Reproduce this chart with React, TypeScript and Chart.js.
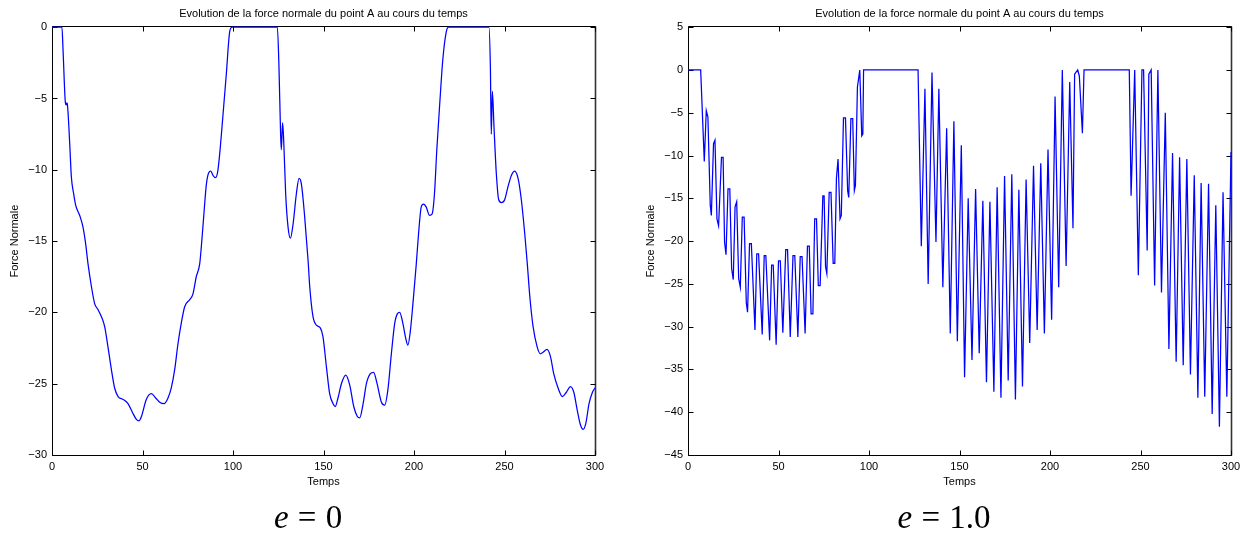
import React, { useEffect, useRef } from 'react';
import { Chart, registerables } from 'chart.js';

Chart.register(...registerables);

const TITLE = 'Evolution de la force normale du point A au cours du temps';
const X_LABEL = 'Temps';
const Y_LABEL = 'Force Normale';

const xTicks = [0, 50, 100, 150, 200, 250, 300];
const leftYTicks = [-30, -25, -20, -15, -10, -5, 0];
const rightYTicks = [-45, -40, -35, -30, -25, -20, -15, -10, -5, 0, 5];

// e = 0 (smooth curve)
const leftTime = [
  0, 5.5, 6.1, 7.4, 7.8, 8.2, 8.5, 9.8, 10.7, 12.0, 13.1, 15.3, 17.1, 18.6, 19.9,
  21.8, 23.6, 25.4, 27.3, 29.1, 30.9, 32.8, 34.6, 36.5, 39.3, 42.0, 44.4, 46.6, 48.1,
  49.4, 52.1, 54.9, 57.3, 59.5, 61.9, 64.1, 65.9, 67.8, 69.6, 71.5, 73.3, 76.1, 77.9,
  79.7, 81.6, 82.5, 83.8, 85.3, 86.6, 87.7, 89.0, 90.4, 91.7, 93.0, 94.5, 96.3, 98.2,
  99.5, 124.5, 125.4, 126.3, 126.7, 127.4, 128.0, 129.1, 130.4, 131.7, 133.2, 135.0,
  136.5, 137.8, 139.6, 141.5, 142.4, 144.2, 146.1, 148.3, 149.7, 151.6, 153.4, 155.3,
  156.5, 158.0, 159.9, 162.3, 164.5, 166.7, 168.7, 170.0, 171.9, 173.7, 175.9, 177.7,
  179.6, 182.0, 183.8, 185.6, 187.5, 189.3, 190.8, 192.1, 193.9, 195.4, 196.6, 197.9,
  199.4, 201.2, 202.5, 204.0, 205.3, 206.7, 208.6, 210.0, 211.3, 212.6, 214.1, 215.9,
  217.8, 219.1, 241.4, 242.2, 242.7, 243.3, 244.2, 245.5, 246.8, 248.3, 250.1, 251.9,
  253.8, 255.6, 257.5, 259.3, 261.2, 262.6, 264.0, 265.8, 268.0, 269.8, 271.3, 273.5,
  275.4, 277.2, 279.6, 282.0, 284.2, 286.4, 288.3, 290.1, 292.0, 293.4, 294.9, 296.7,
  298.6, 300,
];
const leftForce = [
  0, 0, -1.6, -5.3, -5.45, -5.3, -5.4, -8.2, -10.5, -11.7, -12.5, -13.2, -14.0, -15.2, -16.6,
  -18.2, -19.4, -19.8, -20.3, -21.0, -22.4, -24.0, -25.3, -25.9, -26.1, -26.4, -27.0, -27.5, -27.6,
  -27.3, -26.1, -25.7, -26.0, -26.3, -26.4, -26.0, -25.3, -24.0, -22.2, -20.7, -19.6, -19.1, -18.7,
  -17.5, -16.6, -15.4, -13.3, -11.0, -10.2, -10.1, -10.4, -10.55, -10.0, -8.4, -6.1, -3.3, -0.3,
  0, 0, -2.8, -7.5, -8.6, -6.7, -7.9, -11.7, -14.0, -14.8, -13.8, -11.7,
  -10.6, -11.0, -13.3, -16.4, -18.2, -20.3, -20.9, -21.1, -21.7, -23.8, -25.7, -26.4,
  -26.6, -26.0, -25.0, -24.4, -25.1, -26.6, -27.3, -27.4, -26.4, -25.0, -24.3, -24.2,
  -25.0, -26.3, -26.5, -25.4, -22.9, -20.8, -20.1, -20.0, -20.8, -21.8, -22.3, -21.4,
  -19.4, -16.7, -14.5, -12.6, -12.4, -12.6, -13.2, -13.1, -11.7, -8.6, -5.6, -2.3,
  -0.35, 0, 0, -2.8, -7.5, -4.5, -7.0, -10.3, -12.1, -12.3, -12.1, -11.2,
  -10.4, -10.1, -10.6, -12.1, -14.5, -16.6, -18.9, -21.0, -22.4, -22.9, -22.8, -22.6,
  -23.1, -24.3, -25.3, -25.9, -25.6, -25.2, -25.6, -26.8, -27.9, -28.2, -27.8, -26.4,
  -25.6, -25.3,
];

// e = 1.0 (oscillating curve)
const rightTime = [
  0, 7.0, 9.0, 10.1, 11.0, 12.3, 12.9, 14.1, 14.9, 16.0, 16.9, 18.5, 19.4, 20.2, 21.0,
  22.1, 23.1, 24.1, 25.0, 26.0, 26.9, 28.0, 28.9, 30.0, 31.0, 32.2, 32.9, 34.0, 35.0,
  37.0, 38.0, 39.0, 41.0, 42.1, 43.0, 45.1, 46.2, 47.1, 48.7, 50.0, 51.0, 52.4, 54.0,
  55.0, 56.5, 58.0, 59.0, 60.7, 62.0, 63.0, 64.7, 66.0, 67.0, 68.0, 69.0, 70.0, 71.0,
  72.0, 73.0, 74.5, 75.2, 76.0, 76.7, 78.0, 79.0, 80.2, 81.1, 82.0, 82.9, 84.0, 84.7,
  85.9, 87.0, 88.2, 88.8, 90.0, 91.0, 91.9, 92.5, 93.6, 94.9, 96.0, 96.6, 97.0,
  127.1, 128.9, 130.9, 132.7, 134.8, 137.0, 138.6, 140.8, 142.9, 144.9, 146.9, 148.8,
  151.0, 152.8, 154.8, 156.9, 158.9, 160.9, 162.9, 164.9, 166.8, 169.0, 170.8, 172.9,
  174.9, 176.9, 178.9, 180.9, 182.8, 184.8, 186.8, 188.8, 190.9, 192.9, 194.9, 196.9,
  198.9, 200.9, 202.8, 204.8, 206.8, 208.9, 210.9, 212.7, 213.6, 215.3, 216.2, 217.9,
  218.8, 243.8, 244.8, 246.8, 248.8, 250.8, 251.7, 253.7, 254.6, 255.9, 257.8, 259.6,
  261.6, 263.7, 265.7, 267.7, 269.7, 271.6, 273.6, 275.6, 277.6, 279.7, 281.7, 283.5,
  285.5, 287.6, 289.6, 291.6, 293.6, 295.6, 297.7, 300,
];
const rightForce = [
  0, 0, -10.7, -4.75, -5.5, -15.8, -17.0, -8.6, -8.2, -17.4, -18.2, -10.2, -10.2, -20.1, -21.6,
  -13.9, -13.9, -23.2, -24.5, -16.0, -15.4, -24.4, -25.4, -17.2, -17.2, -27.2, -28.3, -20.3, -20.3,
  -30.4, -21.5, -21.5, -30.9, -21.7, -21.7, -31.6, -22.8, -22.8, -32.1, -22.3, -22.3, -30.7, -21.0,
  -21.0, -31.2, -21.7, -21.7, -31.2, -21.8, -21.8, -30.8, -20.6, -20.6, -28.5, -28.5, -17.4, -17.4,
  -25.2, -25.2, -14.7, -14.7, -23.0, -23.8, -14.3, -14.3, -22.6, -22.6, -12.7, -10.4, -17.4, -17.0,
  -5.6, -5.6, -14.1, -14.9, -5.7, -5.7, -14.1, -13.5, -2.0, 0, -7.7, -7.5, 0,
  0, -20.6, -2.2, -25.0, -0.3, -20.1, -2.2, -25.4, -6.8, -30.8, -6.0, -31.7,
  -8.8, -35.9, -15.0, -33.9, -13.9, -33.1, -15.3, -36.5, -15.4, -37.6, -13.7, -38.3,
  -12.4, -36.3, -12.2, -38.5, -14.0, -37.0, -12.8, -31.9, -11.2, -30.4, -10.9, -30.8,
  -9.3, -29.2, -3.1, -25.4, 0, -22.9, -1.4, -18.5, -0.5, 0, -0.7, -7.4,
  0, 0, -14.7, 0, -24.0, 0, 0, -21.1, -0.5, 0, -25.2, 0,
  -26.0, -5.0, -32.6, -9.7, -34.1, -10.2, -34.5, -10.4, -35.6, -12.3, -38.3, -13.2,
  -38.2, -13.3, -40.2, -15.8, -41.7, -14.3, -38.2, -9.6,
];

const CAPTION_LEFT = '0';
const CAPTION_RIGHT = '1.0';

const FONT = 'Liberation Sans, Arial, Helvetica, sans-serif';
const CANVAS_W = 610;
const CANVAS_H = 500;

const fmt = (v: number) => (v < 0 ? '\u2212' + Math.abs(v) : String(v));

const boxPlugin = {
  id: 'matlabBox',
  beforeDatasetsDraw(chart: any) {
    const { ctx, chartArea } = chart;
    const { left, right, top, bottom } = chartArea;
    const xs = chart.scales.x;
    const ys = chart.scales.y;
    ctx.save();
    ctx.strokeStyle = '#000';
    ctx.lineWidth = 1;
    const L = Math.round(left) + 0.5;
    const B = Math.round(bottom) + 0.5;
    const T = Math.round(top) - 0.5;
    const R = Math.round(right) + 0.5;
    ctx.beginPath();
    ctx.moveTo(L, T);
    ctx.lineTo(R, T);
    ctx.moveTo(L, T);
    ctx.lineTo(L, B);
    ctx.lineTo(R, B);
    ctx.stroke();
    ctx.strokeStyle = '#333';
    ctx.lineWidth = 1.6;
    ctx.beginPath();
    ctx.moveTo(R, T);
    ctx.lineTo(R, B);
    ctx.stroke();
    ctx.strokeStyle = '#000';
    ctx.lineWidth = 1;
    const len = 5;
    ctx.beginPath();
    xs.ticks.forEach((t: any) => {
      const px = Math.round(xs.getPixelForValue(t.value)) + 0.5;
      ctx.moveTo(px, B);
      ctx.lineTo(px, B - len);
      ctx.moveTo(px, T);
      ctx.lineTo(px, T + len);
    });
    ys.ticks.forEach((t: any) => {
      const py = Math.round(ys.getPixelForValue(t.value)) + 0.5;
      ctx.moveTo(L, py);
      ctx.lineTo(L + len, py);
      ctx.moveTo(R, py);
      ctx.lineTo(R - len, py);
    });
    ctx.stroke();
    ctx.restore();
  },
};

function Panel(props: {
  left: number;
  time: number[];
  force: number[];
  yTicks: number[];
  smooth: boolean;
}) {
  const ref = useRef<HTMLCanvasElement>(null);
  useEffect(() => {
    const { time, force, yTicks, smooth } = props;
    const data = time.map((t, i) => ({ x: t, y: force[i] }));
    const chart = new Chart(ref.current as HTMLCanvasElement, {
      type: 'line',
      data: {
        datasets: [
          {
            data,
            borderColor: '#0000ff',
            borderWidth: 1.25,
            pointRadius: 0,
            fill: false,
            tension: 0,
            cubicInterpolationMode: smooth ? 'monotone' : 'default',
            clip: 4,
          } as any,
        ],
      },
      options: {
        animation: false,
        responsive: false,
        devicePixelRatio: 1,
        layout: { padding: { left: 0, right: 15, top: 0, bottom: 0 } },
        plugins: {
          legend: { display: false },
          tooltip: { enabled: false },
          title: {
            display: true,
            text: TITLE,
            fullSize: false,
            color: '#000',
            font: { family: FONT, size: 11, weight: 'normal' },
            padding: { top: 7, bottom: 7 },
          } as any,
        },
        scales: {
          x: {
            type: 'linear',
            min: 0,
            max: 300,
            afterBuildTicks: (s: any) => {
              s.ticks = xTicks.map((v) => ({ value: v }));
            },
            afterFit: (s: any) => {
              s.height = 45;
            },
            grid: { display: false, drawTicks: false },
            border: { display: false },
            ticks: {
              autoSkip: false,
              maxRotation: 0,
              padding: 5,
              color: '#000',
              font: { family: FONT, size: 11 },
              callback: (v: any) => fmt(Number(v)),
            },
            title: {
              display: true,
              text: X_LABEL,
              color: '#000',
              font: { family: FONT, size: 11 },
              padding: { top: 0, bottom: 11 },
            },
          },
          y: {
            type: 'linear',
            min: yTicks[0],
            max: yTicks[yTicks.length - 1],
            afterBuildTicks: (s: any) => {
              s.ticks = yTicks.map((v) => ({ value: v }));
            },
            afterFit: (s: any) => {
              s.width = 52;
            },
            grid: { display: false, drawTicks: false },
            border: { display: false },
            ticks: {
              autoSkip: false,
              padding: 5,
              color: '#000',
              font: { family: FONT, size: 11 },
              callback: (v: any) => fmt(Number(v)),
            },
            title: {
              display: true,
              text: Y_LABEL,
              color: '#000',
              font: { family: FONT, size: 11 },
              padding: { top: 8.5, bottom: 0 },
            },
          },
        },
      } as any,
      plugins: [boxPlugin],
    });
    return () => chart.destroy();
  }, []);
  return (
    <canvas
      ref={ref}
      width={CANVAS_W}
      height={CANVAS_H}
      style={{ position: 'absolute', left: props.left, top: 0, width: CANVAS_W, height: CANVAS_H }}
    />
  );
}

function Caption(props: { center: number; value: string }) {
  return (
    <div
      style={{
        position: 'absolute',
        left: props.center - 100,
        width: 200,
        top: 501,
        textAlign: 'center',
        fontFamily: 'Liberation Serif, Times New Roman, serif',
        fontSize: 33,
        lineHeight: '33px',
        color: '#000',
        whiteSpace: 'nowrap',
      }}
    >
      <i>e</i>
      <span style={{ margin: '0 0.28em' }}>=</span>
      {props.value}
    </div>
  );
}

export default function App() {
  return (
    <div
      style={{
        position: 'fixed',
        left: 0,
        top: 0,
        width: 1252,
        height: 536,
        background: '#fff',
        overflow: 'hidden',
      }}
    >
      <Panel left={0} time={leftTime} force={leftForce} yTicks={leftYTicks} smooth={true} />
      <Panel left={636} time={rightTime} force={rightForce} yTicks={rightYTicks} smooth={false} />
      <Caption center={308} value={CAPTION_LEFT} />
      <Caption center={944} value={CAPTION_RIGHT} />
    </div>
  );
}
